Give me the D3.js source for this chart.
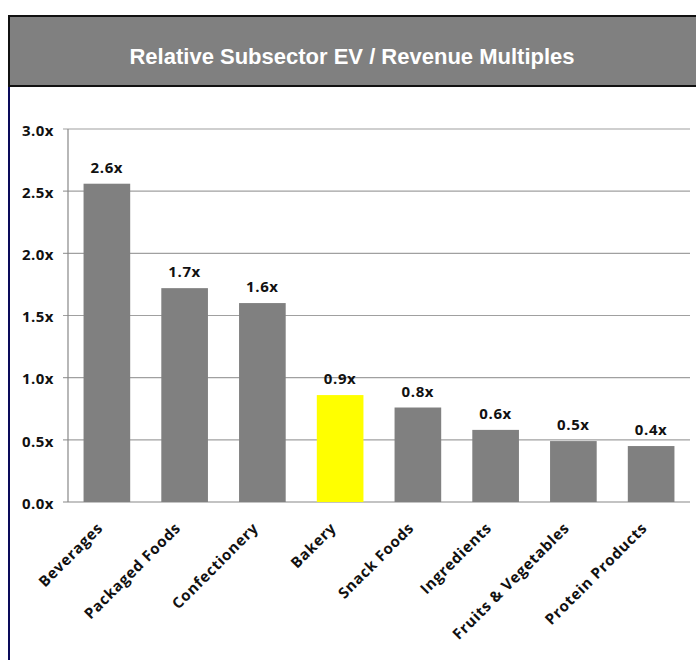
<!DOCTYPE html>
<html>
<head>
<meta charset="utf-8">
<script src="https://cdn.jsdelivr.net/npm/d3@7"></script>
<style>
  body { margin: 0; background: #fff; }
  svg { display: block; }
</style>
</head>
<body>
<div id="chart"></div>
<script>
const categories = ["Beverages", "Packaged Foods", "Confectionery", "Bakery", "Snack Foods", "Ingredients", "Fruits & Vegetables", "Protein Products"];
const multiples = [2.56, 1.72, 1.60, 0.86, 0.76, 0.58, 0.49, 0.45];
const valueLabels = ["2.6x", "1.7x", "1.6x", "0.9x", "0.8x", "0.6x", "0.5x", "0.4x"];
const highlight = "Bakery";
const yTicks = [0, 0.5, 1.0, 1.5, 2.0, 2.5, 3.0];
const title = "Relative Subsector EV / Revenue Multiples";

const width = 696;
const height = 660;
const plot = { left: 68, right: 690, top: 129, bottom: 502 };
const labelFont = "'Open Sans', sans-serif";

const svg = d3.select("#chart")
    .append("svg")
    .attr("width", width)
    .attr("height", height);

svg.append("rect")
    .attr("width", width)
    .attr("height", height)
    .attr("fill", "#fff");

// header band
svg.append("rect")
    .attr("x", 9)
    .attr("y", 16)
    .attr("width", width)
    .attr("height", 70)
    .attr("fill", "#808080")
    .attr("stroke", "#111")
    .attr("stroke-width", 2);

svg.append("text")
    .attr("x", 352)
    .attr("y", 64)
    .attr("text-anchor", "middle")
    .attr("font-family", "'Liberation Sans Narrow', 'Liberation Sans', sans-serif")
    .attr("font-weight", "bold")
    .attr("font-size", 22)
    .attr("fill", "#fff")
    .text(title);

// left frame line
svg.append("line")
    .attr("x1", 9).attr("x2", 9)
    .attr("y1", 87).attr("y2", height)
    .attr("stroke", "#0a0a5a")
    .attr("stroke-width", 2);

const x = d3.scaleBand()
    .domain(categories)
    .range([plot.left, plot.right])
    .paddingInner(0.4)
    .paddingOuter(0.2);

const y = d3.scaleLinear()
    .domain([0, 3])
    .range([plot.bottom, plot.top]);

// gridlines
svg.append("g")
    .selectAll("line")
    .data(yTicks)
    .join("line")
    .attr("x1", plot.left - 5)
    .attr("x2", plot.right)
    .attr("y1", d => y(d))
    .attr("y2", d => y(d))
    .attr("stroke", d => d === 0 ? "#888" : "#a0a0a0")
    .attr("stroke-width", 1.2);

// y axis line
svg.append("line")
    .attr("x1", plot.left).attr("x2", plot.left)
    .attr("y1", plot.top).attr("y2", plot.bottom)
    .attr("stroke", "#888")
    .attr("stroke-width", 1.2);

svg.append("g")
    .selectAll("text")
    .data(yTicks)
    .join("text")
    .attr("x", 54)
    .attr("y", d => y(d))
    .attr("dy", "0.45em")
    .attr("text-anchor", "end")
    .attr("font-family", labelFont)
    .attr("font-weight", "bold")
    .attr("font-size", 15)
    .attr("letter-spacing", 0.5)
    .attr("fill", "#111")
    .text(d => d.toFixed(1) + "x");

// bars
svg.append("g")
    .selectAll("rect")
    .data(categories)
    .join("rect")
    .attr("x", d => x(d))
    .attr("y", (d, i) => y(multiples[i]))
    .attr("width", x.bandwidth())
    .attr("height", (d, i) => y(0) - y(multiples[i]))
    .attr("fill", d => d === highlight ? "#ffff00" : "#808080");

// value labels
svg.append("g")
    .selectAll("text")
    .data(categories)
    .join("text")
    .attr("x", d => x(d) + x.bandwidth() / 2)
    .attr("y", (d, i) => y(multiples[i]) - 11)
    .attr("text-anchor", "middle")
    .attr("font-family", labelFont)
    .attr("font-weight", "bold")
    .attr("font-size", 15)
    .attr("letter-spacing", 0.6)
    .attr("fill", "#111")
    .text((d, i) => valueLabels[i]);

// category labels
svg.append("g")
    .selectAll("text")
    .data(categories)
    .join("text")
    .attr("transform", d => `translate(${x(d) + x.bandwidth() / 2 - 3},529) rotate(-45)`)
    .attr("text-anchor", "end")
    .attr("font-family", labelFont)
    .attr("font-weight", "bold")
    .attr("font-size", 15)
    .attr("letter-spacing", 0.7)
    .attr("fill", "#111")
    .text(d => d);
</script>
</body>
</html>
